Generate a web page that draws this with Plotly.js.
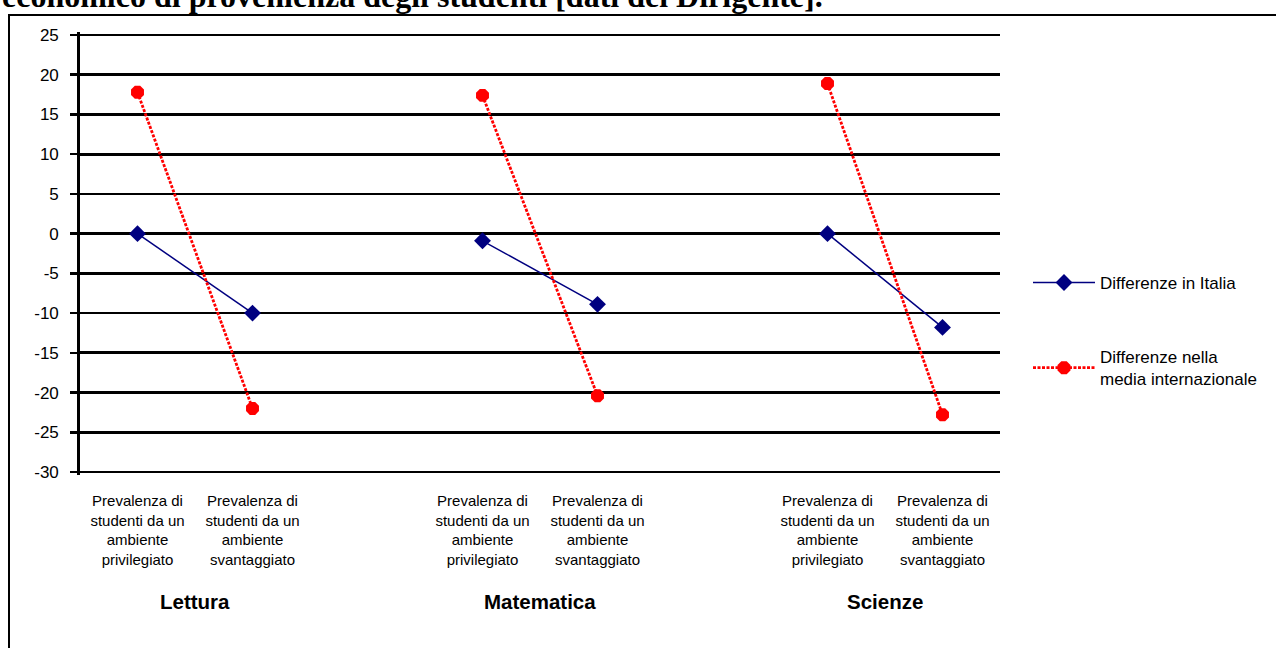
<!DOCTYPE html>
<html>
<head>
<meta charset="utf-8">
<script src="https://cdn.plot.ly/plotly-3.0.1.min.js"></script>
<style>
html,body{margin:0;padding:0;background:#fff;}
#chart{width:1276px;height:648px;}
</style>
</head>
<body>
<div id="chart"></div>
<script>
// ---- data ----
const slotLabels = [
  "Prevalenza di<br>studenti da un<br>ambiente<br>privilegiato",
  "Prevalenza di<br>studenti da un<br>ambiente<br>svantaggiato",
  "",
  "Prevalenza di<br>studenti da un<br>ambiente<br>privilegiato",
  "Prevalenza di<br>studenti da un<br>ambiente<br>svantaggiato",
  "",
  "Prevalenza di<br>studenti da un<br>ambiente<br>privilegiato",
  "Prevalenza di<br>studenti da un<br>ambiente<br>svantaggiato"
];
const groupNames = ["Lettura", "Matematica", "Scienze"];
const italia = [0, -10, null, -0.9, -8.9, null, 0, -11.8];
const internazionale = [17.8, -22, null, 17.4, -20.4, null, 18.9, -22.8];
const seriesNames = ["Differenze in Italia", "Differenze nella<br>media internazionale"];
const yTicks = [25, 20, 15, 10, 5, 0, -5, -10, -15, -20, -25, -30];
const yTickText = ["25", "20", "15", "10", "5", "0", "-5", "-10", "-15", "-20", "-25", "-30"];
const titleText = "economico di provenienza degli studenti [dati del Dirigente].";

const slots = slotLabels.map((_, i) => i);
const groupCenters = groupNames.map((_, g) => g * 3 + 0.5);
const yMax = Math.max(...yTicks), yMin = Math.min(...yTicks);

// value-axis span in the reference: 25 at y=35px, -30 at y=472px; pad so edge gridlines draw fully
const padPx = 3;
const axTop = 35, axBot = 472;
const unitPerPx = (yMax - yMin) / (axBot - axTop);
const plotL = 80, plotR = 1000, plotT = axTop - padPx, plotB = axBot + padPx;
const W = 1276, H = 648;
const pw = plotR - plotL, ph = plotB - plotT;
const px2x = p => (p - plotL) / pw;
const px2y = p => (plotB - p) / ph;
const FONT = "Liberation Sans, Arial, sans-serif";

const traces = [
  {
    x: slots, y: italia, name: seriesNames[0], type: "scatter", mode: "lines+markers",
    connectgaps: false, legendgroup: "a",
    line: {color: "#000080", width: 1.5},
    marker: {symbol: "diamond", size: 13, color: "#000080"}
  },
  {
    x: slots, y: internazionale, name: seriesNames[1], type: "scatter", mode: "lines+markers",
    connectgaps: false, legendgroup: "b",
    line: {color: "#FF0000", width: 2.8, dash: "3px,1.5px"},
    marker: {symbol: "octagon", size: 14, color: "#FF0000"}
  }
];

const annotations = groupNames.map((g, i) => ({
  text: "<b>" + g + "</b>", x: groupCenters[i], xref: "x", y: px2y(601), yref: "paper",
  showarrow: false, xanchor: "center", yanchor: "middle",
  font: {family: FONT, size: 20.5, color: "#000"}
}));
annotations.push({
  text: "<b>" + titleText + "</b>", x: px2x(0), xref: "paper", y: px2y(16), yref: "paper",
  showarrow: false, xanchor: "left", yanchor: "bottom",
  font: {family: "Liberation Serif, Times New Roman, serif", size: 32, color: "#000"}
});

const layout = {
  width: W, height: H,
  margin: {l: plotL, r: W - plotR, t: plotT, b: H - plotB},
  paper_bgcolor: "#fff", plot_bgcolor: "#fff",
  showlegend: true,
  legend: {
    x: px2x(1028), y: px2y(265), xanchor: "left", yanchor: "top",
    font: {family: FONT, size: 17, color: "#000"},
    itemwidth: 62,
    tracegroupgap: 49, traceorder: "grouped", bgcolor: "rgba(0,0,0,0)"
  },
  xaxis: {
    range: [-0.5, slots.length - 0.5],
    tickmode: "array", tickvals: slots, ticktext: slotLabels,
    showgrid: false, zeroline: false, showline: false, ticks: "",
    tickfont: {family: FONT, size: 15, color: "#000"},
    ticklabelstandoff: 15, fixedrange: true
  },
  yaxis: {
    range: [yMin - padPx * unitPerPx, yMax + padPx * unitPerPx],
    tickmode: "array", tickvals: yTicks, ticktext: yTickText,
    showgrid: true, gridcolor: "#000", gridwidth: 2.8,
    zeroline: false, showline: true, linecolor: "#000", linewidth: 2.8,
    ticks: "outside", ticklen: 7, tickwidth: 2.5, tickcolor: "#000",
    tickfont: {family: FONT, size: 17, color: "#000"},
    ticklabelstandoff: 8,
    fixedrange: true
  },
  shapes: [{
    type: "rect", xref: "paper", yref: "paper",
    x0: px2x(9), x1: px2x(W + 20), y0: px2y(H + 20), y1: px2y(15),
    line: {color: "#000", width: 2}, fillcolor: "rgba(0,0,0,0)", layer: "below"
  }],
  annotations: annotations
};

Plotly.newPlot("chart", traces, layout, {displayModeBar: false, staticPlot: true});
</script>
</body>
</html>
